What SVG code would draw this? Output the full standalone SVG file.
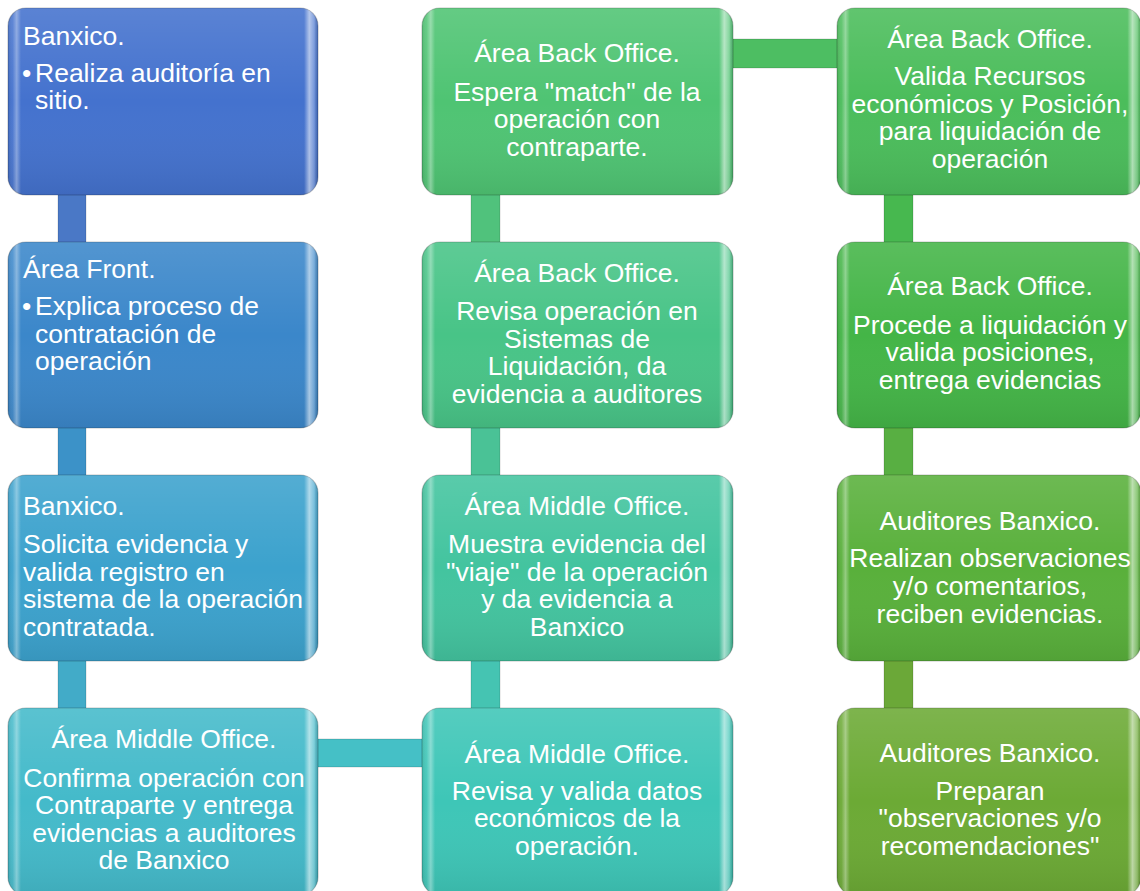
<svg xmlns="http://www.w3.org/2000/svg" width="1140" height="891" viewBox="0 0 1140 891">
<defs>
<linearGradient id="vshade" x1="0" y1="0" x2="0" y2="1">
<stop offset="0" stop-color="#ffffff" stop-opacity="0.12"/>
<stop offset="0.5" stop-color="#ffffff" stop-opacity="0"/>
<stop offset="1" stop-color="#000000" stop-opacity="0.08"/>
</linearGradient>
<linearGradient id="hbev" x1="0" y1="0" x2="1" y2="0">
<stop offset="0" stop-color="#000000" stop-opacity="0.08"/>
<stop offset="0.015" stop-color="#ffffff" stop-opacity="0.05"/>
<stop offset="0.028" stop-color="#ffffff" stop-opacity="0.35"/>
<stop offset="0.042" stop-color="#ffffff" stop-opacity="0"/>
<stop offset="0.955" stop-color="#ffffff" stop-opacity="0"/>
<stop offset="0.972" stop-color="#ffffff" stop-opacity="0.55"/>
<stop offset="0.988" stop-color="#ffffff" stop-opacity="0.25"/>
<stop offset="1" stop-color="#000000" stop-opacity="0.12"/>
</linearGradient>
</defs>
<style>
.box{stroke:#000;stroke-opacity:0.22;stroke-width:1.2}
.ov{fill:url(#vshade)}
.bv{fill:url(#hbev)}
.bar{stroke:#000;stroke-opacity:0.15;stroke-width:1}
text{font-family:"Liberation Sans",Arial,sans-serif;font-size:26.5px;fill:#fff}
.c{text-anchor:middle}
</style>

<g id="connectors">
<rect class="bar" x="58" y="190" width="28" height="56" fill="#4A78C6"/>
<rect class="bar" x="58" y="423" width="28" height="56" fill="#3C92C8"/>
<rect class="bar" x="58" y="656" width="28" height="56" fill="#42ABC8"/>
<rect class="bar" x="314" y="739" width="112" height="28" fill="#45C0C6"/>
<rect class="bar" x="471" y="656" width="29" height="56" fill="#45C4B2"/>
<rect class="bar" x="471" y="423" width="29" height="56" fill="#4AC296"/>
<rect class="bar" x="471" y="190" width="29" height="56" fill="#50C27C"/>
<rect class="bar" x="729" y="39" width="112" height="29" fill="#4DBE62"/>
<rect class="bar" x="884" y="190" width="29" height="56" fill="#47B84F"/>
<rect class="bar" x="884" y="423" width="29" height="56" fill="#58AF42"/>
<rect class="bar" x="884" y="656" width="29" height="56" fill="#6BA838"/>
</g>

<g id="n1">
<rect class="box" x="8" y="8" width="310" height="187" rx="18" fill="#4472CE"/>
<rect class="ov" x="8" y="8" width="310" height="187" rx="18"/>
<rect class="bv" x="8" y="8" width="310" height="187" rx="18"/>
<text x="23" y="45">Banxico.</text>
<text x="22" y="82">•</text><text x="35" y="82">Realiza auditoría en</text>
<text x="35" y="109">sitio.</text>
</g>

<g id="n2">
<rect class="box" x="8" y="242" width="310" height="186" rx="18" fill="#3B87CA"/>
<rect class="ov" x="8" y="242" width="310" height="186" rx="18"/>
<rect class="bv" x="8" y="242" width="310" height="186" rx="18"/>
<text x="23" y="278">Área Front.</text>
<text x="22" y="315">•</text><text x="35" y="315">Explica proceso de</text>
<text x="35" y="343">contratación de</text>
<text x="35" y="370">operación</text>
</g>

<g id="n3">
<rect class="box" x="8" y="475" width="310" height="186" rx="18" fill="#3CA2CD"/>
<rect class="ov" x="8" y="475" width="310" height="186" rx="18"/>
<rect class="bv" x="8" y="475" width="310" height="186" rx="18"/>
<text x="23" y="515">Banxico.</text>
<text x="23" y="553">Solicita evidencia y</text>
<text x="23" y="581">valida registro en</text>
<text x="23" y="608">sistema de la operación</text>
<text x="23" y="636">contratada.</text>
</g>

<g id="n4">
<rect class="box" x="8" y="708" width="310" height="187" rx="18" fill="#44BACA"/>
<rect class="ov" x="8" y="708" width="310" height="187" rx="18"/>
<rect class="bv" x="8" y="708" width="310" height="187" rx="18"/>
<text class="c" x="164" y="748">Área Middle Office.</text>
<text class="c" x="164" y="787">Confirma operación con</text>
<text class="c" x="164" y="814">Contraparte y entrega</text>
<text class="c" x="164" y="842">evidencias a auditores</text>
<text class="c" x="164" y="869">de Banxico</text>
</g>

<g id="n5">
<rect class="box" x="422" y="708" width="311" height="187" rx="18" fill="#3EC6B7"/>
<rect class="ov" x="422" y="708" width="311" height="187" rx="18"/>
<rect class="bv" x="422" y="708" width="311" height="187" rx="18"/>
<text class="c" x="577" y="763">Área Middle Office.</text>
<text class="c" x="577" y="800">Revisa y valida datos</text>
<text class="c" x="577" y="827">económicos de la</text>
<text class="c" x="577" y="855">operación.</text>
</g>

<g id="n6">
<rect class="box" x="422" y="475" width="311" height="186" rx="18" fill="#43C49F"/>
<rect class="ov" x="422" y="475" width="311" height="186" rx="18"/>
<rect class="bv" x="422" y="475" width="311" height="186" rx="18"/>
<text class="c" x="577" y="515">Área Middle Office.</text>
<text class="c" x="577" y="553">Muestra evidencia del</text>
<text class="c" x="577" y="581">"viaje" de la operación</text>
<text class="c" x="577" y="608">y da evidencia a</text>
<text class="c" x="577" y="636">Banxico</text>
</g>

<g id="n7">
<rect class="box" x="422" y="242" width="311" height="186" rx="18" fill="#48C487"/>
<rect class="ov" x="422" y="242" width="311" height="186" rx="18"/>
<rect class="bv" x="422" y="242" width="311" height="186" rx="18"/>
<text class="c" x="577" y="282">Área Back Office.</text>
<text class="c" x="577" y="320">Revisa operación en</text>
<text class="c" x="577" y="348">Sistemas de</text>
<text class="c" x="577" y="375">Liquidación, da</text>
<text class="c" x="577" y="403">evidencia a auditores</text>
</g>

<g id="n8">
<rect class="box" x="422" y="8" width="311" height="187" rx="18" fill="#4FC473"/>
<rect class="ov" x="422" y="8" width="311" height="187" rx="18"/>
<rect class="bv" x="422" y="8" width="311" height="187" rx="18"/>
<text class="c" x="577" y="62">Área Back Office.</text>
<text class="c" x="577" y="101">Espera "match" de la</text>
<text class="c" x="577" y="128">operación con</text>
<text class="c" x="577" y="156">contraparte.</text>
</g>

<g id="n9">
<rect class="box" x="837" y="8" width="304" height="187" rx="18" fill="#4BBD5B"/>
<rect class="ov" x="837" y="8" width="304" height="187" rx="18"/>
<rect class="bv" x="837" y="8" width="304" height="187" rx="18"/>
<text class="c" x="990" y="48">Área Back Office.</text>
<text class="c" x="990" y="85">Valida Recursos</text>
<text class="c" x="990" y="113">económicos y Posición,</text>
<text class="c" x="990" y="140">para liquidación de</text>
<text class="c" x="990" y="168">operación</text>
</g>

<g id="n10">
<rect class="box" x="837" y="242" width="304" height="186" rx="18" fill="#44B547"/>
<rect class="ov" x="837" y="242" width="304" height="186" rx="18"/>
<rect class="bv" x="837" y="242" width="304" height="186" rx="18"/>
<text class="c" x="990" y="295">Área Back Office.</text>
<text class="c" x="990" y="334">Procede a liquidación y</text>
<text class="c" x="990" y="361">valida posiciones,</text>
<text class="c" x="990" y="389">entrega evidencias</text>
</g>

<g id="n11">
<rect class="box" x="837" y="475" width="304" height="186" rx="18" fill="#59B03B"/>
<rect class="ov" x="837" y="475" width="304" height="186" rx="18"/>
<rect class="bv" x="837" y="475" width="304" height="186" rx="18"/>
<text class="c" x="990" y="530">Auditores Banxico.</text>
<text class="c" x="990" y="567">Realizan observaciones</text>
<text class="c" x="990" y="595">y/o comentarios,</text>
<text class="c" x="990" y="623">reciben evidencias.</text>
</g>

<g id="n12">
<rect class="box" x="837" y="708" width="304" height="187" rx="18" fill="#6CAA35"/>
<rect class="ov" x="837" y="708" width="304" height="187" rx="18"/>
<rect class="bv" x="837" y="708" width="304" height="187" rx="18"/>
<text class="c" x="990" y="762">Auditores Banxico.</text>
<text class="c" x="990" y="800">Preparan</text>
<text class="c" x="990" y="827">"observaciones y/o</text>
<text class="c" x="990" y="855">recomendaciones"</text>
</g>
</svg>
